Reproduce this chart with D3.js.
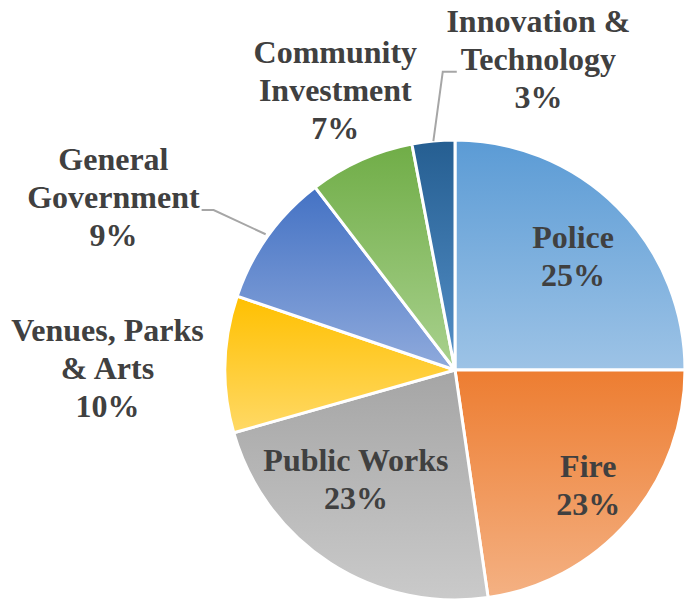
<!DOCTYPE html>
<html>
<head>
<meta charset="utf-8">
<script src="https://cdn.jsdelivr.net/npm/d3@7"></script>
</head>
<body style="margin:0">
<script>
// budget shares (%), clockwise from 12 o'clock
const categories = ["Police", "Fire", "Public Works", "Venues, Parks & Arts",
                    "General Government", "Community Investment", "Innovation & Technology"];
const values = [25.0, 22.7, 22.9, 9.6, 9.4, 7.4, 3.0];
const labelLines = [["Police"], ["Fire"], ["Public Works"], ["Venues, Parks", "& Arts"],
                    ["General", "Government"], ["Community", "Investment"], ["Innovation &", "Technology"]];

// slice gradients, top -> bottom
const topColors = ["#5b9bd5", "#ed7d31", "#a5a5a5", "#ffc000", "#4472c4", "#70ad47", "#255e91"];
const botColors = ["#9dc3e6", "#f4b183", "#cacaca", "#ffd966", "#8faadc", "#a9d18e", "#5590c8"];

// label shift from the centroid of the label arc, and leader side
const labelShift = [[1, 4], [8, 7], [-9, -30], [-182, 3], [-207, -76], [-52, -128], [99, -146]];
const leader = [null, null, null, null, "right", null, "left"];

const W = 686, H = 606;
const cx = 455, cy = 370, R = 230;
const fs = 32, lh = 38, capH = 0.66 * fs;

const svg = d3.select("body").append("svg").attr("width", W).attr("height", H)
  .style("display", "block");
const defs = svg.append("defs");

topColors.forEach((c, i) => {
  const gr = defs.append("linearGradient").attr("id", "grad" + i)
    .attr("x1", 0).attr("y1", 0).attr("x2", 0).attr("y2", 1);
  gr.append("stop").attr("offset", "0%").attr("stop-color", c);
  gr.append("stop").attr("offset", "100%").attr("stop-color", botColors[i]);
});

const data = categories.map((c, i) => ({ name: c, value: values[i], lines: labelLines[i], i: i }));

const pie = d3.pie().value(d => d.value).sort(null);
const arcs = pie(data);
const arc = d3.arc().innerRadius(0).outerRadius(R);
const labelArc = d3.arc().innerRadius(R * 0.72).outerRadius(R * 0.72);

const g = svg.append("g").attr("transform", `translate(${cx},${cy})`);

g.selectAll("path.slice")
  .data(arcs)
  .enter().append("path")
  .attr("class", "slice")
  .attr("d", arc)
  .attr("fill", d => `url(#grad${d.data.i})`)
  .attr("stroke", "#fff")
  .attr("stroke-width", 3)
  .attr("stroke-linejoin", "round");

// labels: one text element per line, placed in page coordinates
const labelLayer = svg.append("g");
const boxes = [];
arcs.forEach(d => {
  const c = labelArc.centroid(d);
  const s = labelShift[d.data.i];
  const x = cx + c[0] + s[0], y = cy + c[1] + s[1];
  const lines = d.data.lines.concat([Math.round(d.data.value) + "%"]);
  const firstBase = y - ((lines.length - 1) * lh - capH) / 2;
  const nodes = [];
  lines.forEach((ln, k) => {
    const t = labelLayer.append("text")
      .attr("y", firstBase + k * lh)
      .attr("font-family", "Times New Roman")
      .attr("font-weight", "bold")
      .attr("font-size", fs)
      .attr("fill", "#404040")
      .style("font-family", "'Liberation Serif', 'Times New Roman', serif")
      .text(ln);
    const w = t.node().getComputedTextLength();
    t.attr("x", x - w / 2);
    nodes.push({ node: t.node(), w: w });
  });
  boxes[d.data.i] = { x: x, firstBase: firstBase, nodes: nodes };
});

// leader lines for the outside labels
const line = d3.line();
arcs.forEach(d => {
  const side = leader[d.data.i];
  if (!side) return;
  const b = boxes[d.data.i];
  const w = b.nodes[1].w;
  const yl = b.firstBase + lh + 2;
  const mid = (d.startAngle + d.endAngle) / 2;
  const rr = side === "right" ? R + 3 : R;
  const end = [cx + rr * Math.sin(mid), cy - rr * Math.cos(mid)];
  let pts;
  if (side === "right") {
    const x0 = b.x + w / 2 + 2;
    pts = [[x0, yl], [x0 + 12, yl], end];
  } else {
    const x0 = b.x - w / 2 - 4;
    pts = [[x0, yl], [x0 - 14, yl], end];
  }
  svg.append("path")
    .attr("d", line(pts))
    .attr("fill", "none")
    .attr("stroke", "#a6a6a6")
    .attr("stroke-width", 2);
});
</script>
</body>
</html>
